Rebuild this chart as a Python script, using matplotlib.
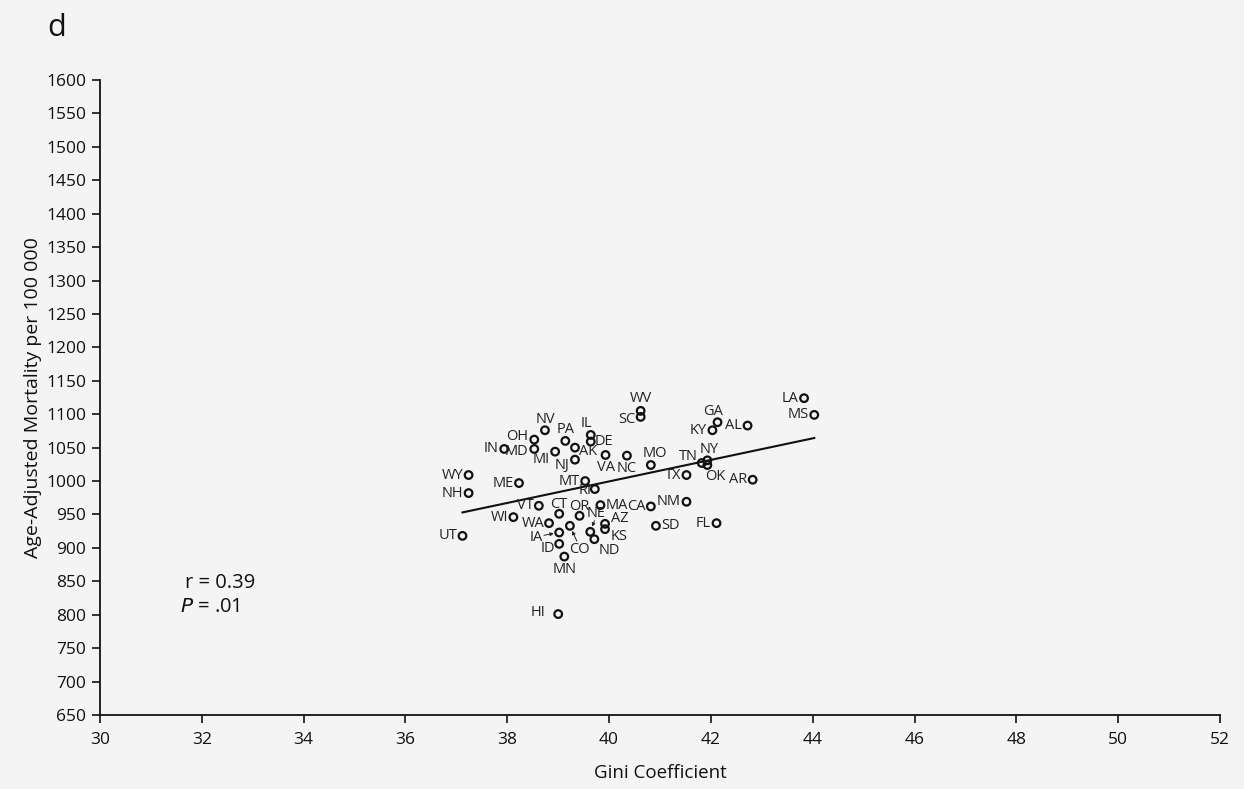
import numpy as np
import matplotlib
matplotlib.use("Agg")
import matplotlib.pyplot as plt

plt.rcParams['font.family'] = ['Open Sans', 'DejaVu Sans']

# State-level Gini coefficient vs age-adjusted mortality
states = ["WV", "SC", "NV", "OH", "PA", "IL", "DE", "IN", "MD", "MI", "AK", "NJ",
          "VA", "NC", "MO", "WY", "NH", "ME", "MT", "RI", "VT", "CT", "OR", "MA",
          "CA", "WI", "WA", "CO", "NE", "AZ", "KS", "ND", "IA", "ID", "MN", "UT",
          "SD", "HI", "LA", "MS", "GA", "KY", "AL", "TN", "NY", "OK", "TX", "AR",
          "NM", "FL"]
gini = [40.62, 40.62, 38.74, 38.53, 39.14, 39.64, 39.64, 37.94, 38.53, 38.94, 39.33, 39.33,
        39.93, 40.35, 40.82, 37.24, 37.24, 38.23, 39.53, 39.72, 38.62, 39.02, 39.42, 39.83,
        40.82, 38.12, 38.82, 39.23, 39.63, 39.92, 39.92, 39.71, 39.02, 39.02, 39.12, 37.12,
        40.92, 39.00, 43.83, 44.03, 42.13, 42.03, 42.72, 41.82, 41.93, 41.93, 41.52, 42.82,
        41.52, 42.11]
mortality = [1105, 1096, 1076, 1062, 1060, 1069, 1059, 1048, 1048, 1044, 1050, 1032,
             1039, 1038, 1024, 1009, 982, 997, 1000, 988, 963, 951, 948, 964,
             962, 946, 937, 933, 924, 936, 928, 913, 923, 906, 887, 918,
             933, 801, 1124, 1099, 1088, 1076, 1083, 1027, 1031, 1024, 1009, 1002,
             969, 937]

x_ticks = list(range(30, 53, 2))
y_ticks = list(range(650, 1601, 50))

# label placement: (dx, dy) in points, horizontal alignment
L = (-4, 0, 'right')
R = (4, 0, 'left')
U = (0, 8, 'center')
D = (0, -9, 'center')
label_pos = {
    "WV": (0, 9, 'center'), "SC": (-4, -2, 'right'), "NV": U, "OH": (-4, 2, 'right'),
    "PA": U, "IL": (-3, 8, 'center'), "DE": (3, 0, 'left'), "IN": L,
    "MD": (-4, -2, 'right'), "MI": (-4, -6, 'right'), "AK": (3, -3, 'left'),
    "NJ": (-4, -4, 'right'), "VA": D, "NC": D, "MO": (3, 8, 'center'),
    "WY": L, "NH": L, "ME": L, "MT": L, "RI": (-7, -1, 'center'),
    "VT": L, "CT": (0, 7, 'center'), "OR": (0, 6.5, 'center'), "MA": R, "CA": L,
    "WI": L, "WA": (-3, 0, 'right'),
    "CO": (7, -17, 'center'), "NE": (4, 13, 'center'), "AZ": (4, 4, 'left'),
    "KS": (4, -5, 'left'), "ND": (3, -8, 'left'), "IA": (-12, -3.5, 'right'),
    "ID": (-3, -3, 'right'), "MN": D, "UT": L, "SD": R, "HI": (-9, 1, 'right'),
    "LA": L, "MS": L, "GA": (-3, 8, 'center'), "KY": L, "AL": L,
    "TN": (-3, 5, 'right'), "NY": (1, 8, 'center'), "OK": (6, -8, 'center'),
    "TX": L, "AR": L, "NM": L, "FL": L,
}

fig = plt.figure(figsize=(12.44, 7.89), dpi=100, facecolor='#f4f4f4')
ax = fig.add_axes([0.0804, 0.0938, 0.9003, 0.8048])
ax.set_facecolor('#f4f4f4')

ax.scatter(gini, mortality, s=30, facecolors='none', edgecolors='#111111',
           linewidths=1.6, zorder=3)

# least-squares fit over the observed range
slope, intercept = np.polyfit(gini, mortality, 1)
xf = np.array([min(gini), max(gini)])
ax.plot(xf, slope * xf + intercept, color='#111111', lw=1.5, zorder=2)

for s, xv, yv in zip(states, gini, mortality):
    dx, dy, ha = label_pos[s]
    ax.annotate(s, (xv, yv), xytext=(dx, dy), textcoords='offset points',
                ha=ha, va='center', fontsize=10.5, color='#222222', zorder=4)

# pointer arrows for crowded labels
arrows = {"IA": (-11, -2), "CO": (5, -11), "NE": (3, 8)}
for s, start in arrows.items():
    i = states.index(s)
    ax.annotate("", (gini[i], mortality[i]), xytext=start, textcoords='offset points',
                arrowprops=dict(arrowstyle='-|>', lw=0.7, color='#222222',
                                shrinkA=0, shrinkB=4, mutation_scale=5))

ax.set_xlim(30, 52)
ax.set_ylim(650, 1600)
ax.set_xticks(x_ticks)
ax.set_yticks(y_ticks)
ax.tick_params(axis='both', labelsize=12.5, length=6, width=1.2, color='#111111',
               labelcolor='#111111')
ax.tick_params(axis='x', pad=6)
ax.tick_params(axis='y', pad=4)
for side in ('top', 'right'):
    ax.spines[side].set_visible(False)
for side in ('left', 'bottom'):
    ax.spines[side].set_linewidth(1.3)
    ax.spines[side].set_color('#111111')

ax.set_xlabel("Gini Coefficient", fontsize=13.5, labelpad=12, color='#111111')
ax.set_ylabel("Age-Adjusted Mortality per 100 000", fontsize=14, labelpad=3, color='#111111')

ax.text(0.076, 0.2, "r = 0.39", transform=ax.transAxes, fontsize=14.5, color='#111111')
ax.text(0.071, 0.162, r"$P$ = .01", transform=ax.transAxes, fontsize=14.5, color='#111111')
fig.text(0.038, 0.955, "d", fontsize=22, color='#111111')

fig.savefig("out.png", dpi=100, facecolor=fig.get_facecolor())
